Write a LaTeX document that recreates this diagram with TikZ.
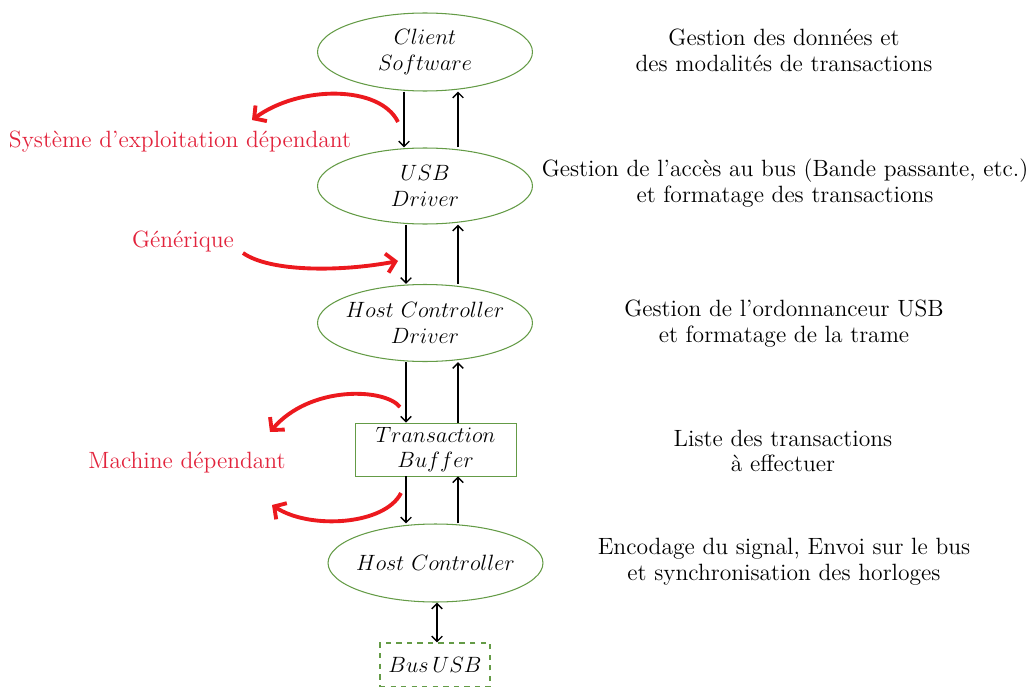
\RequirePackage{fix-cm}
\documentclass[tikz,border=0pt]{standalone}
\usepackage{fontspec}
\usetikzlibrary{shapes.geometric,calc,arrows.meta}
\definecolor{boxgreen}{RGB}{100,155,70}
\definecolor{curvered}{RGB}{236,25,30}
\definecolor{labelred}{RGB}{226,35,60}
\tikzset{
  every node/.style={font=\fontsize{13.4}{14.7}\selectfont},
  inner/.style={font=\fontsize{12.6}{14.7}\selectfont},
  layer/.style={ellipse,draw=boxgreen,line width=0.6pt,align=center,inner sep=-25pt,minimum width=4.3cm,minimum height=1.56cm,inner},
  bufbox/.style={rectangle,draw=boxgreen,line width=0.5pt,align=center,inner sep=0pt,minimum width=3.22cm,minimum height=1.06cm,inner},
  busbox/.style={rectangle,draw=boxgreen,dashed,line width=0.6pt,align=center,inner sep=0pt,minimum width=2.2cm,minimum height=0.88cm,inner},
  flow/.style={-{Straight Barb[length=3pt,width=6pt]},line width=0.8pt},
  bothflow/.style={{Straight Barb[length=3pt,width=6pt]}-{Straight Barb[length=3pt,width=6pt]},line width=0.8pt},
  redarrow/.style={-{Straight Barb[length=5pt,width=11pt]},curvered,line width=2.2pt},
  redlabel/.style={text=labelred},
  desc/.style={align=center}
}
\begin{document}
\begin{tikzpicture}[x=0.02cm,y=-0.02cm]
\useasboundingbox (0,0) rectangle (1030,686);

\node[layer] (cs) at (425,52) {$Client$\\$Software$};
\node[layer,minimum height=1.52cm] (usb) at (425,186) {$USB$\\$Driver$};
\node[layer,minimum height=1.54cm] (hcd) at (425,323) {$Host\ Controller$\\$Driver$};
\node[bufbox] (tb) at (435.5,449.5) {$Transaction$\\$Buffer$};
\node[layer] (hc) at (435.5,563) {$Host\ Controller$};
\node[busbox] (bus) at (435,665) {$Bus\,USB$};

\coordinate (xa) at (404,0);
\coordinate (xb) at (406,0);
\coordinate (xu) at (458,0);
\coordinate (xm) at (437,0);

\draw[flow] (cs.south -| xa) -- (usb.north -| xa);
\draw[flow] (usb.north -| xu) -- (cs.south -| xu);
\draw[flow] (usb.south -| xb) -- (hcd.north -| xb);
\draw[flow] (hcd.north -| xu) -- (usb.south -| xu);
\draw[flow] (hcd.south -| xb) -- (tb.north -| xb);
\draw[flow] (tb.north -| xu) -- (hcd.south -| xu);
\draw[flow] (tb.south -| xb) -- (hc.north -| xb);
\draw[flow] (hc.north -| xu) -- (tb.south -| xu);
\draw[bothflow] (hc.south -| xm) -- (bus.north -| xm);

\node[desc] (d1) at (784,50) {Gestion des données et\\des modalités de transactions};
\node[desc] (d2) at (785,183) {Gestion de l’accès au bus (Bande passante, etc.)\\et formatage des transactions};
\node[desc] (d3) at (784,324) {Gestion de l’ordonnanceur USB\\et formatage de la trame};
\node[desc] (d4) at (783,451) {Liste des transactions\\à effectuer};
\node[desc] (d5) at (784,562) {Encodage du signal, Envoi sur le bus\\et synchronisation des horloges};

\node[redlabel] (l1) at (180,142) {Système d’exploitation dépendant};
\node[redlabel] (l2) at (183,241) {Générique};
\node[redlabel] (l3) at (187,463) {Machine dépendant};

\coordinate (r1s) at (398,122);
\coordinate (r1e) at (252,120);
\coordinate (r2s) at (243,253);
\coordinate (r2e) at (398,261);
\coordinate (r3s) at (400,407);
\coordinate (r3e) at (270,432);
\coordinate (r4s) at (401,493);
\coordinate (r4e) at (272,505);

\draw[redarrow] (r1s) .. controls (380,85) and (300,85) .. (r1e);
\draw[redarrow] (r2s) .. controls (270,272) and (340,272) .. (r2e);
\draw[redarrow] (r3s) .. controls (385,388) and (310,385) .. (r3e);
\draw[redarrow] (r4s) .. controls (385,525) and (310,530) .. (r4e);
\end{tikzpicture}
\end{document}
